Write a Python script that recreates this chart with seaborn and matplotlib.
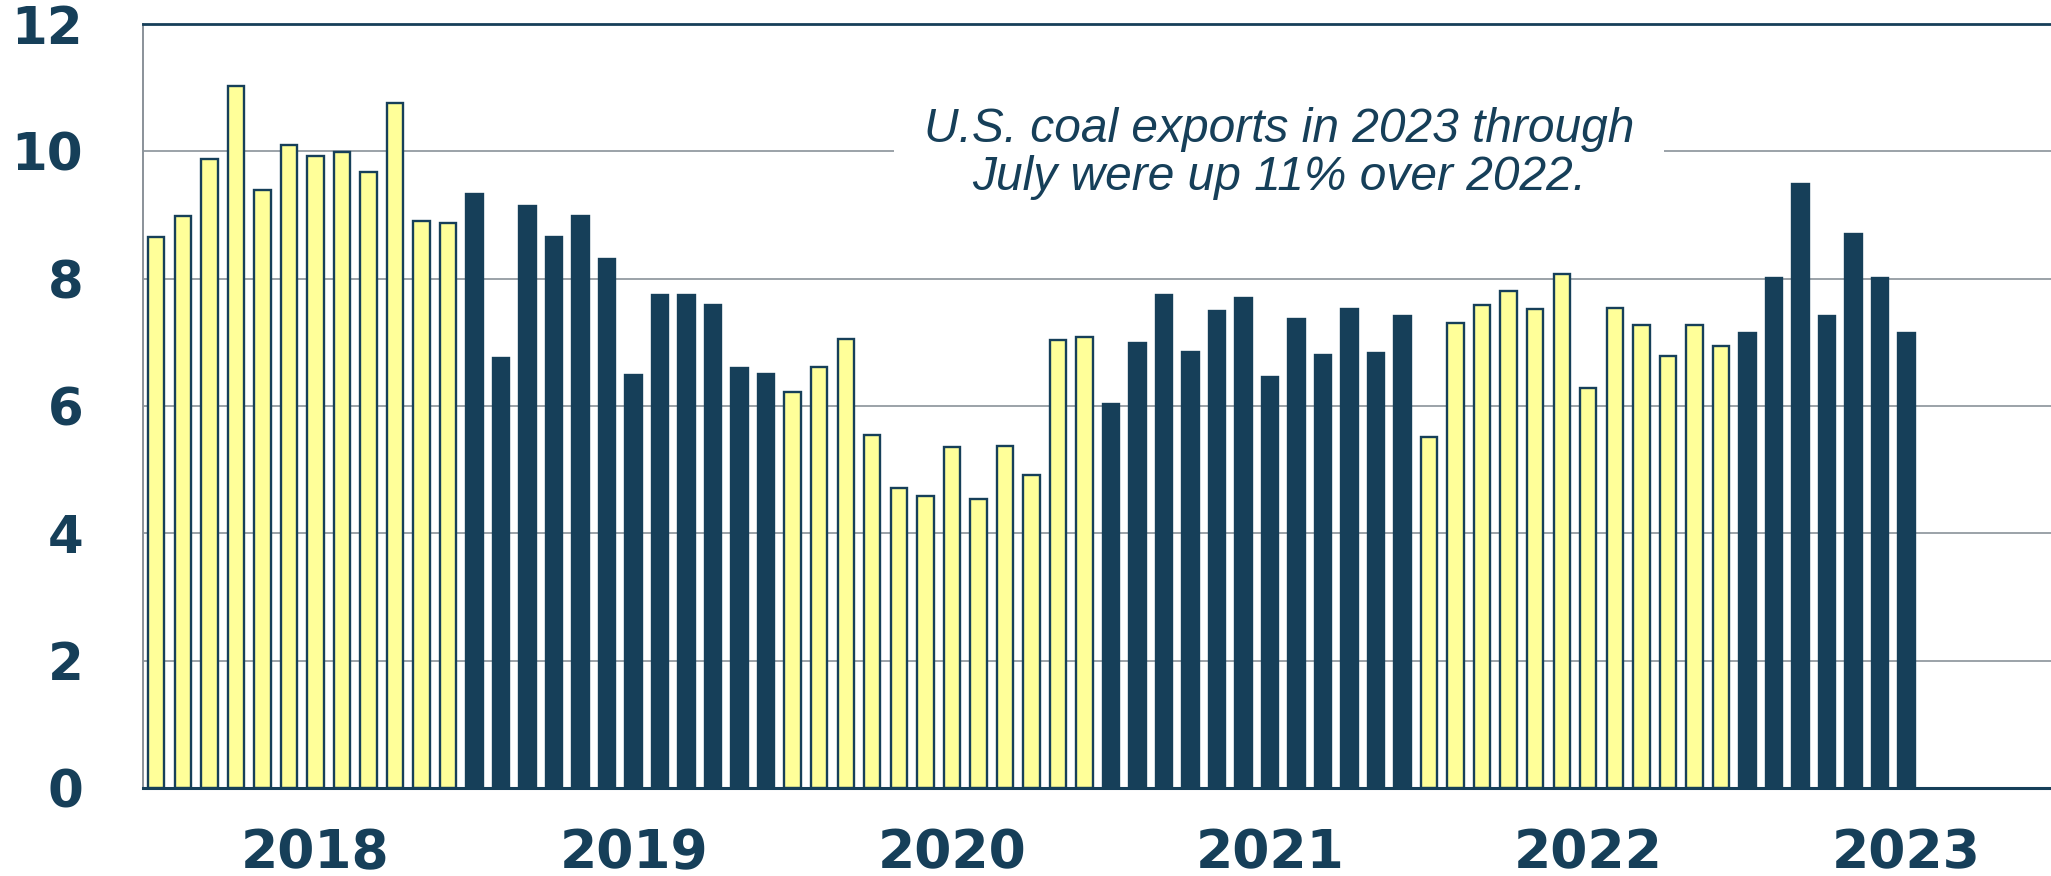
import matplotlib
matplotlib.use("Agg")
import matplotlib.pyplot as plt
import seaborn as sns
import pandas as pd

# ---- data (million short tons, monthly) ----
years = ["2018", "2019", "2020", "2021", "2022", "2023"]
exports_2018 = [8.65, 8.98, 9.88, 11.03, 9.39, 10.10, 9.92, 9.99, 9.67, 10.76, 8.91, 8.88]
exports_2019 = [9.33, 6.75, 9.14, 8.65, 8.98, 8.31, 6.48, 7.75, 7.75, 7.59, 6.60, 6.50]
exports_2020 = [6.22, 6.61, 7.06, 5.54, 4.71, 4.58, 5.35, 4.54, 5.37, 4.92, 7.03, 7.09]
exports_2021 = [6.03, 6.99, 7.74, 6.85, 7.49, 7.70, 6.45, 7.36, 6.80, 7.52, 6.84, 7.41]
exports_2022 = [5.52, 7.31, 7.58, 7.80, 7.53, 8.08, 6.29, 7.54, 7.28, 6.78, 7.28, 6.94]
exports_2023 = [7.14, 8.01, 9.49, 7.42, 8.70, 8.01, 7.14]
y_ticks = [0, 2, 4, 6, 8, 10, 12]
note = "U.S. coal exports in 2023 through\nJuly were up 11% over 2022."

series = [exports_2018, exports_2019, exports_2020, exports_2021, exports_2022, exports_2023]

NAVY = "#163F59"
YELLOW = "#FFFF99"
GRID = "#8A9299"

rows = []
for yr, vals in zip(years, series):
    for m, v in enumerate(vals, start=1):
        rows.append({"month": f"{yr}-{m:02d}", "year": yr, "value": v})
df = pd.DataFrame(rows)
months = list(df["month"])
palette = {yr: (YELLOW if i % 2 == 0 else NAVY) for i, yr in enumerate(years)}

fig = plt.figure(figsize=(20.51, 8.76), dpi=100)
ax = fig.add_axes([143 / 2051, 1 - 788 / 876, 1 - 143 / 2051, (788 - 24) / 876])

sns.barplot(data=df, x="month", y="value", hue="year", order=months,
            palette=palette, saturation=1, dodge=False, width=0.62,
            edgecolor=NAVY, linewidth=1.7, legend=False, ax=ax, zorder=3)

ax.set_xlim(-0.5, 71.45)
ax.set_ylim(0, 12)
ax.set_yticks(y_ticks)
ax.set_yticklabels([str(t) for t in y_ticks])
ax.set_xticks([6 + 12 * i for i in range(len(years))])
ax.set_xticklabels(years)
ax.set_xlabel("")
ax.set_ylabel("")

ax.set_axisbelow(True)
ax.yaxis.grid(True, color=GRID, linewidth=1.2)
ax.xaxis.grid(False)

for lab in ax.get_yticklabels():
    lab.set_fontfamily("DejaVu Sans")
    lab.set_fontweight("bold")
    lab.set_color(NAVY)
    lab.set_fontsize(37)
for lab in ax.get_xticklabels():
    lab.set_fontfamily("DejaVu Sans")
    lab.set_fontweight("bold")
    lab.set_color(NAVY)
    lab.set_fontsize(38.5)
ax.tick_params(axis="y", length=0, pad=43)
ax.tick_params(axis="x", length=0, pad=28)

ax.spines["right"].set_visible(False)
ax.spines["top"].set_color(NAVY)
ax.spines["top"].set_linewidth(2.0)
ax.spines["bottom"].set_color(NAVY)
ax.spines["bottom"].set_linewidth(2.2)
ax.spines["left"].set_color(GRID)
ax.spines["left"].set_linewidth(1.4)
for s in ax.spines.values():
    s.set_zorder(5)

ax.text(42.35, 9.97, note, ha="center", va="center", fontsize=34.5,
        fontstyle="italic", family=["Liberation Sans", "DejaVu Sans"],
        color=NAVY, linespacing=1.09, zorder=4,
        bbox=dict(boxstyle="square,pad=0.62", facecolor="white", edgecolor="none"))

fig.savefig("out.png", dpi=100)
